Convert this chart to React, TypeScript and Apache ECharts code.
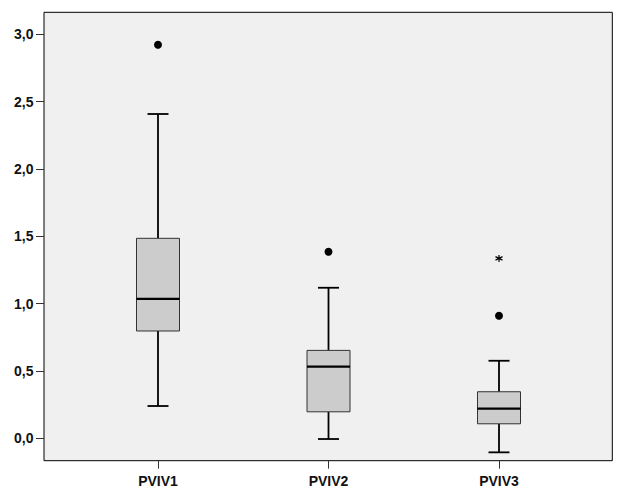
import React, { useEffect, useRef } from "react";
import * as echarts from "echarts";

const categories = ["PVIV1", "PVIV2", "PVIV3"];
const whiskerLow = [0.24, -0.005, -0.104];
const quartile1 = [0.797, 0.197, 0.108];
const medians = [1.036, 0.532, 0.22];
const quartile3 = [1.485, 0.653, 0.346];
const whiskerHigh = [2.408, 1.118, 0.576];
const outliers: [number, number][] = [
  [0, 2.922],
  [1, 1.385],
  [2, 0.91],
];
const extremes: [number, number][] = [[2, 1.336]];
const yTicks = [0, 0.5, 1.0, 1.5, 2.0, 2.5, 3.0];
const yMin = -0.166;
const yMax = 3.163;

const FONT = "'Liberation Sans', Arial, sans-serif";
const BOX_W = 43;
const CAP_W = 21;

export default function App() {
  const ref = useRef<HTMLDivElement>(null);
  useEffect(() => {
    document.body.style.margin = "0";
    if (!ref.current) return;
    const chart = echarts.init(ref.current, undefined, { renderer: "svg" });
    const boxData = categories.map((_, i) => [
      i,
      whiskerLow[i],
      quartile1[i],
      medians[i],
      quartile3[i],
      whiskerHigh[i],
    ]);
    chart.setOption({
      animation: false,
      grid: [
        {
          left: 44,
          top: 12.3,
          width: 568.3,
          height: 448.4,
          show: true,
          backgroundColor: "#f0f0f0",
          borderColor: "#000",
          borderWidth: 1,
        },
        {
          left: 72.75,
          top: 12.3,
          width: 511.5,
          height: 448.4,
        },
      ],
      xAxis: [
        { gridIndex: 0, type: "value", show: false, min: 0, max: 1 },
        {
          gridIndex: 1,
          type: "category",
          data: categories,
          boundaryGap: true,
          position: "bottom",
          axisLine: { show: false, onZero: false },
          axisTick: {
            show: true,
            alignWithLabel: true,
            length: 8,
            lineStyle: { color: "#333", width: 1 },
          },
          axisLabel: {
            margin: 13,
            fontFamily: FONT,
            fontSize: 14,
            fontWeight: "bold",
            color: "#111",
          },
          splitLine: { show: false },
        },
      ],
      yAxis: [
        { gridIndex: 0, type: "value", show: false, min: 0, max: 1 },
        {
          gridIndex: 1,
          type: "value",
          min: yMin,
          max: yMax,
          offset: 28.75,
          axisLine: { show: false, onZero: false },
          splitLine: { show: false },
          axisTick: {
            show: true,
            length: 8,
            customValues: yTicks,
            lineStyle: { color: "#333", width: 1 },
          },
          axisLabel: {
            customValues: yTicks,
            margin: 10.5,
            fontFamily: FONT,
            fontSize: 14,
            fontWeight: "bold",
            color: "#111",
            formatter: (v: number) => v.toFixed(1).replace(".", ","),
          },
        },
      ],
      series: [
        {
          type: "custom",
          xAxisIndex: 1,
          yAxisIndex: 1,
          data: boxData,
          encode: { x: 0, y: [1, 2, 3, 4, 5] },
          renderItem: (params: any, api: any) => {
            const idx = api.value(0);
            const c = (v: number) => api.coord([idx, v]);
            const low = c(api.value(1));
            const q1 = c(api.value(2));
            const med = c(api.value(3));
            const q3 = c(api.value(4));
            const high = c(api.value(5));
            const x = low[0];
            const whiskerStyle = { stroke: "#000", lineWidth: 1.8 };
            return {
              type: "group",
              children: [
                {
                  type: "line",
                  shape: { x1: x, y1: q1[1], x2: x, y2: low[1] },
                  style: whiskerStyle,
                },
                {
                  type: "line",
                  shape: { x1: x, y1: q3[1], x2: x, y2: high[1] },
                  style: whiskerStyle,
                },
                {
                  type: "line",
                  shape: { x1: x - CAP_W / 2, y1: low[1], x2: x + CAP_W / 2, y2: low[1] },
                  style: whiskerStyle,
                },
                {
                  type: "line",
                  shape: { x1: x - CAP_W / 2, y1: high[1], x2: x + CAP_W / 2, y2: high[1] },
                  style: whiskerStyle,
                },
                {
                  type: "rect",
                  shape: { x: x - BOX_W / 2, y: q3[1], width: BOX_W, height: q1[1] - q3[1] },
                  style: { fill: "#cccccc", stroke: "#333", lineWidth: 1 },
                },
                {
                  type: "line",
                  shape: { x1: x - BOX_W / 2, y1: med[1], x2: x + BOX_W / 2, y2: med[1] },
                  style: { stroke: "#000", lineWidth: 2.2 },
                },
              ],
            };
          },
        },
        {
          type: "scatter",
          xAxisIndex: 1,
          yAxisIndex: 1,
          data: outliers,
          symbol: "circle",
          symbolSize: 8,
          itemStyle: { color: "#000", opacity: 1 },
        },
        {
          type: "scatter",
          xAxisIndex: 1,
          yAxisIndex: 1,
          data: extremes,
          symbol: "path://M0,-1L0,1M-0.87,-0.5L0.87,0.5M-0.87,0.5L0.87,-0.5",
          symbolSize: 7,
          itemStyle: { color: "none", borderColor: "#000", borderWidth: 1.2, opacity: 1 },
        },
      ],
    });
    return () => chart.dispose();
  }, []);
  return <div ref={ref} style={{ width: 624, height: 500 }} />;
}
